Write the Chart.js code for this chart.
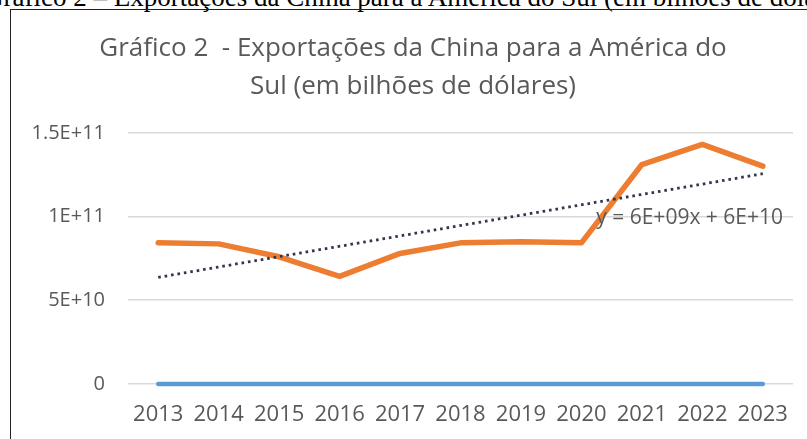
<!DOCTYPE html>
<html lang="pt">
<head>
<meta charset="utf-8">
<script src="https://cdn.jsdelivr.net/npm/chart.js@4"></script>
<style>
    html, body { margin: 0; padding: 0; background: #fff; overflow: hidden; }
    body { width: 807px; height: 439px; position: relative; }
    .legenda-doc {
        position: absolute; left: -16px; top: -16px; white-space: nowrap; line-height: 27px;
        font-family: "Liberation Serif", "DejaVu Serif", serif; font-size: 27px; color: #000;
    }
    .caixa {
        position: absolute; left: 10px; top: 9px; width: 800px; height: 440px;
        border-left: 1.5px solid #222; border-top: 1.5px solid #222;
    }
    .caixa canvas { position: absolute; left: 0; top: 0; }
</style>
</head>
<body>
<div class="legenda-doc">Gráfico 2 – Exportações da China para a América do Sul (em bilhões de dólares)</div>
<div class="caixa">
    <canvas id="grafico" width="800" height="430"></canvas>
</div>
<script>
// ========== Dados ==========

const anos = ['2013', '2014', '2015', '2016', '2017', '2018', '2019', '2020', '2021', '2022', '2023'];
const exportacoes = [8.43e10, 8.37e10, 7.6e10, 6.43e10, 7.8e10, 8.43e10, 8.49e10, 8.43e10, 13.11e10, 14.31e10, 13.01e10];
const serieZero = [0, 0, 0, 0, 0, 0, 0, 0, 0, 0, 0];
// tendência linear (só as pontas)
const tendencia = [6.37e10, null, null, null, null, null, null, null, null, null, 12.56e10];
const ticksValores = [0, 5e10, 1e11, 1.5e11];
const ticksRotulos = ['0', '5E+10', '1E+11', '1.5E+11'];
const equacao = 'y = 6E+09x + 6E+10';

const CINZA = '#595959';
const FONTE = '"Open Sans", "Noto Sans", sans-serif';

// ========== Rótulo da equação ==========

const rotuloEquacao = {
    id: 'rotuloEquacao',
    afterDatasetsDraw(chart) {
        const { ctx, chartArea, scales } = chart;
        ctx.save();
        ctx.font = `21px ${FONTE}`;
        ctx.fillStyle = CINZA;
        ctx.textAlign = 'right';
        ctx.textBaseline = 'middle';
        ctx.fillText(equacao, chartArea.right - 10, scales.y.getPixelForValue(1e11) + 1);
        ctx.restore();
    }
};

// ========== Gráfico ==========

new Chart(document.getElementById('grafico'), {
    type: 'line',
    data: {
        labels: anos,
        datasets: [
            {
                label: 'Linear',
                data: tendencia,
                spanGaps: true,
                borderColor: '#33364a',
                borderWidth: 2.8,
                borderDash: [2.6, 3.9],
                pointRadius: 0,
                order: 0,
            },
            {
                label: 'Exportações',
                data: exportacoes,
                borderColor: '#ed7d31',
                borderWidth: 5.5,
                borderJoinStyle: 'round',
                borderCapStyle: 'round',
                pointRadius: 0,
                tension: 0,
                order: 1,
            },
            {
                label: 'Série 1',
                data: serieZero,
                borderColor: '#5b9bd5',
                borderWidth: 4.5,
                borderCapStyle: 'round',
                pointRadius: 0,
                clip: 8,
                order: 2,
            },
        ]
    },
    options: {
        responsive: false,
        animation: false,
        layout: { padding: { left: 22, right: 18, top: 0, bottom: 0 } },
        plugins: {
            legend: { display: false },
            tooltip: { enabled: false },
            title: {
                display: true,
                text: ['Gráfico 2  - Exportações da China para a América do', 'Sul (em bilhões de dólares)'],
                color: CINZA,
                font: { family: FONTE, size: 26, weight: 'normal', lineHeight: 1.44 },
                padding: { top: 20, bottom: 28 },
            }
        },
        scales: {
            x: {
                offset: true,
                grid: { display: false, drawTicks: false },
                border: { display: false },
                ticks: { color: CINZA, font: { family: FONTE, size: 22 }, padding: 18, maxRotation: 0, autoSkip: false },
                afterFit: s => { s.height = 56; },
            },
            y: {
                min: 0,
                max: 1.5e11,
                afterBuildTicks: s => { s.ticks = ticksValores.map(v => ({ value: v })); },
                grid: { color: '#d9d9d9', lineWidth: 1.6, drawTicks: false },
                border: { display: false },
                ticks: {
                    color: CINZA,
                    font: { family: FONTE, size: 20 },
                    padding: 23,
                    callback: v => ticksRotulos[ticksValores.indexOf(v)] ?? '',
                },
                afterFit: s => { s.width = 95; },
            }
        }
    },
    plugins: [rotuloEquacao]
});
</script>
</body>
</html>
